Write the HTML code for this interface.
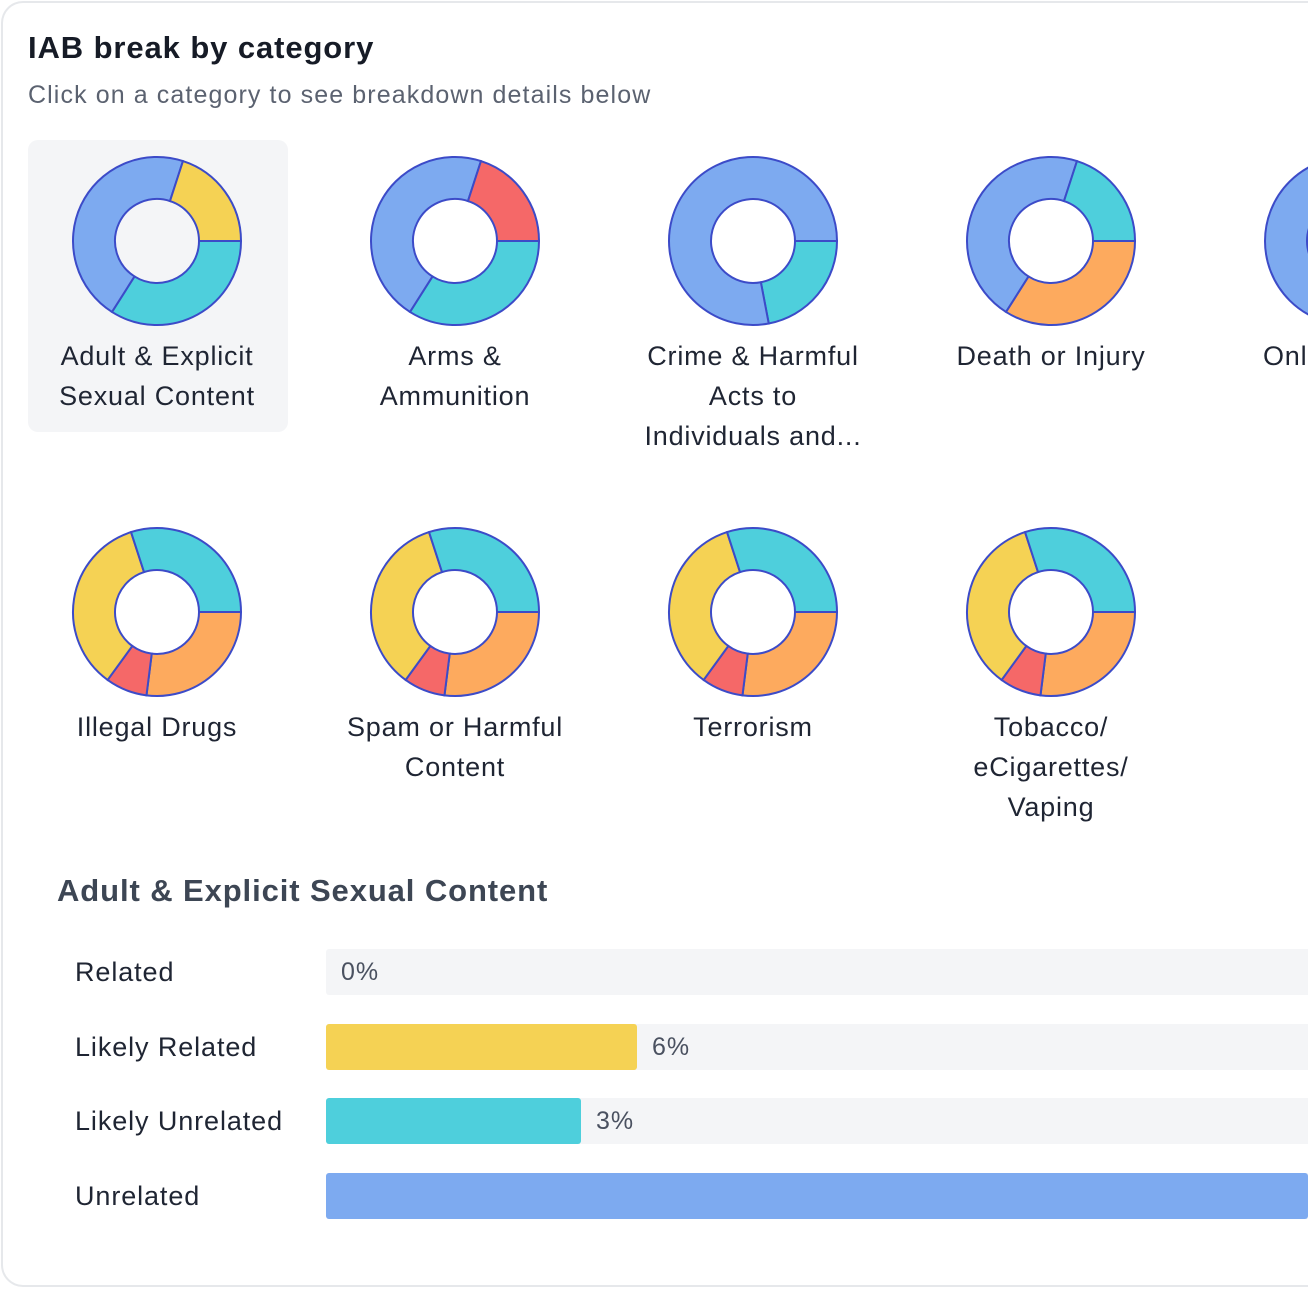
<!DOCTYPE html>
<html><head><meta charset="utf-8">
<style>
body{margin:0;width:1308px;height:1290px;overflow:hidden;background:#fff;font-family:"Liberation Sans",sans-serif;position:relative}
.card{position:absolute;left:1px;top:1px;width:1307px;height:1286px;border:2px solid #e6e8eb;border-right:none;border-radius:22px 0 0 22px;box-sizing:border-box}
.t{position:absolute;white-space:nowrap}
.cell{position:absolute;width:260px;text-align:center;font-size:27px;letter-spacing:0.8px;color:#1f2533;line-height:40px}
</style></head><body>
<div class="card"></div>
<div class="t" style="left:28px;top:30px;font-size:31px;letter-spacing:0.9px;font-weight:bold;color:#161b26">IAB break by category</div>
<div class="t" style="left:28px;top:81px;font-size:25px;letter-spacing:1.1px;color:#5b6270">Click on a category to see breakdown details below</div>
<div style="position:absolute;left:28px;top:140px;width:260px;height:292px;background:#f4f5f7;border-radius:10px"></div>
<svg id="donuts" width="1308" height="860" style="position:absolute;left:0;top:0"></svg>
<div id="labels"></div>
<div class="t" style="left:57px;top:873px;font-size:31px;letter-spacing:0.9px;font-weight:bold;color:#3d4654">Adult &amp; Explicit Sexual Content</div>
<div id="bars"></div>
<script>
const categories=["Adult & Explicit<br>Sexual Content","Arms &<br>Ammunition","Crime & Harmful<br>Acts to<br>Individuals and...","Death or Injury","Online Piracy","Illegal Drugs","Spam or Harmful<br>Content","Terrorism","Tobacco/<br>eCigarettes/<br>Vaping"];
const catNames=["adult","arms","crime","death","online","drugs","spam","terrorism","tobacco"];
const seriesOrder=[["teal","blue","yellow"],["teal","blue","red"],["teal","blue"],["orange","blue","teal"],["blue"],["orange","red","yellow","teal"],["orange","red","yellow","teal"],["orange","red","yellow","teal"],["orange","red","yellow","teal"]];
const seriesValues=[[34,46,20],[34,46,20],[22,78],[34,46,20],[100],[27,8,35,30],[27,8,35,30],[27,8,35,30],[27,8,35,30]];
const barLabels=["Related","Likely Related","Likely Unrelated","Unrelated"];
const barValues=[0,6,3,91];
const barColors=["#f5d254","#f5d254","#4ecfdc","#7daaf0"];

const colors={blue:"#7daaf0",teal:"#4ecfdc",yellow:"#f5d254",red:"#f56868",orange:"#fdaa5e"};
const svg=document.getElementById('donuts');
const NS="http://www.w3.org/2000/svg";
const R=84,r=42;
function colX(i){return 157+298*(i%5);}
function rowY(i){return i<5?241:612;}
function pt(cx,cy,rad,a){const t=(a-90)*Math.PI/180;return [cx+rad*Math.cos(t),cy+rad*Math.sin(t)];}
function angle(v,tot){return v/tot*360;}
categories.forEach((c,i)=>{
  const cx=colX(i),cy=rowY(i);
  const vals=seriesValues[i];const tot=vals.reduce((a,b)=>a+b,0);
  let a0=90;
  vals.forEach((v,j)=>{
    let sweep=angle(v,tot);const a1=a0+sweep;
    const p=document.createElementNS(NS,'path');
    let d;
    if(sweep>=359.99){
      d=`M${cx} ${cy-R}A${R} ${R} 0 1 1 ${cx} ${cy+R}A${R} ${R} 0 1 1 ${cx} ${cy-R}ZM${cx} ${cy-r}A${r} ${r} 0 1 0 ${cx} ${cy+r}A${r} ${r} 0 1 0 ${cx} ${cy-r}Z`;
    }else{
      const big=sweep>180?1:0;
      const [x1,y1]=pt(cx,cy,R,a0),[x2,y2]=pt(cx,cy,R,a1),[x3,y3]=pt(cx,cy,r,a1),[x4,y4]=pt(cx,cy,r,a0);
      d=`M${x1} ${y1}A${R} ${R} 0 ${big} 1 ${x2} ${y2}L${x3} ${y3}A${r} ${r} 0 ${big} 0 ${x4} ${y4}Z`;
    }
    p.setAttribute('d',d);p.setAttribute('fill',colors[seriesOrder[i][j]]);
    p.setAttribute('fill-rule','evenodd');
    p.setAttribute('stroke','#3c4bc8');p.setAttribute('stroke-width','2');
    
    
    svg.appendChild(p);
    a0=a1;
  });
  const l=document.createElement('div');
  l.className='cell';
  if(cx+130>1308){
    l.style.left='1263px';l.style.width=(1308-1263)+'px';l.style.overflow='hidden';l.style.textAlign='left';l.style.whiteSpace='nowrap';
  }else{
    l.style.left=(cx-130)+'px';
  }
  l.style.top=(rowY(i)+95)+'px';
  l.innerHTML=c;
  
  
  document.getElementById('labels').appendChild(l);
});
const bars=document.getElementById('bars');
function barW(v){return v>0?Math.min(199+18.67*v,982):0;}
barLabels.forEach((lab,i)=>{
  const y=949+74.6*i;
  const t=document.createElement('div');t.className='t';
  t.style.cssText=`left:75px;top:${y+8}px;font-size:27px;letter-spacing:0.9px;color:#1f2533;line-height:30px`;
  t.textContent=lab;
  
  
  bars.appendChild(t);
  const tr=document.createElement('div');
  tr.style.cssText=`position:absolute;left:326px;top:${y}px;width:982px;height:46px;background:#f4f5f7;border-radius:3px 0 0 3px`;
  
  
  bars.appendChild(tr);
  const w=barW(barValues[i]);
  const b=document.createElement('div');
  b.style.cssText=`position:absolute;left:326px;top:${y}px;width:${w}px;height:46px;background:${barColors[i]};border-radius:3px`;
  
  
  bars.appendChild(b);
  if(326+w+60<1308){
    const v=document.createElement('div');v.className='t';
    v.style.cssText=`left:${326+w+15}px;top:${y+9}px;font-size:25px;letter-spacing:1px;color:#4a5160;line-height:28px`;
    v.textContent=barValues[i]+'%';
    
    
    bars.appendChild(v);
  }
});
</script>
</body></html>
